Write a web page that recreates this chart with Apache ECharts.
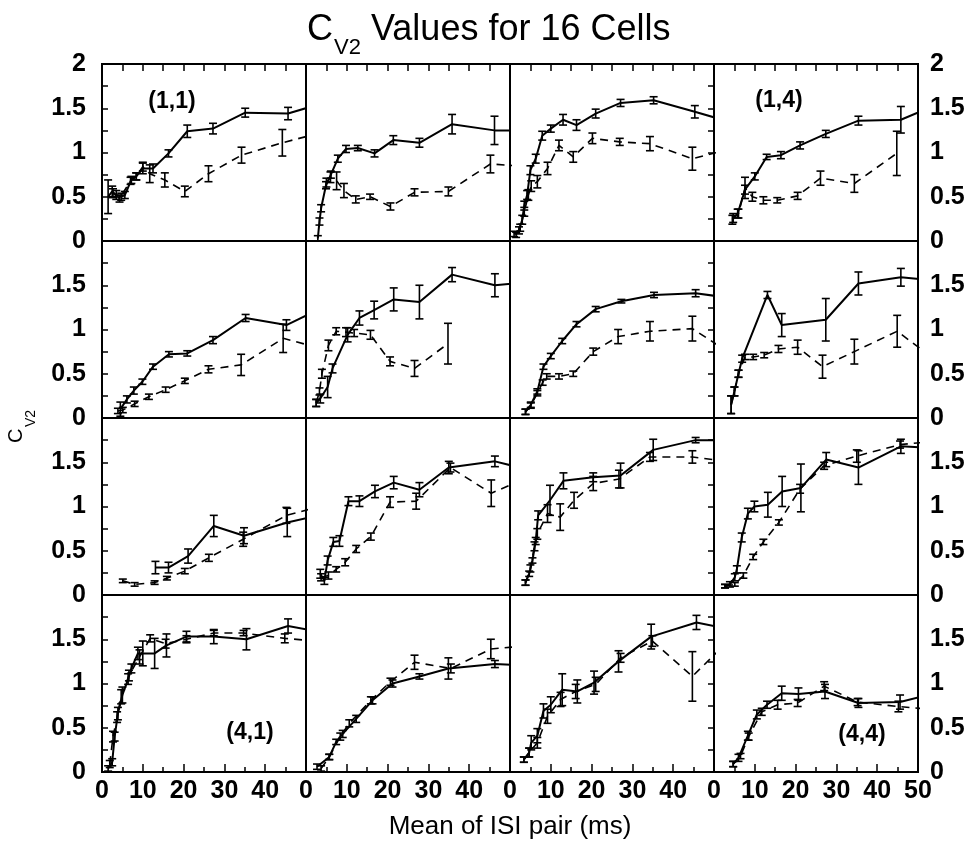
<!DOCTYPE html>
<html>
<head>
<meta charset="utf-8">
<title>CV2 Values for 16 Cells</title>
<script src="https://cdn.jsdelivr.net/npm/echarts@6/dist/echarts.min.js"></script>
<style>
  html, body { margin: 0; padding: 0; background: #fff; }
  #chart { width: 971px; height: 850px; }
</style>
</head>
<body>
<div id="chart"></div>
<script>
// every point is [mean ISI (ms), CV2, error]; points past 50 ms only carry the line to the panel edge
const c11Solid = [[1.5,0.50,0.19],[2.5,0.56,0.06],[3.5,0.52,0.05],[4.7,0.50,0.04],[5.6,0.52,0.04],[7.2,0.69,0.04],[8.4,0.73,0.04],[10.0,0.82,0.06],[12.5,0.82,0.05],[16.3,0.99,0.04],[20.9,1.24,0.07],[27.2,1.27,0.06],[35.1,1.45,0.05],[45.6,1.44,0.07],[55,1.57,0.05]];
const c11Dashed = [[2.7,0.54,0.05],[4.3,0.48,0.04],[7.0,0.68,0.04],[8.4,0.73,0.04],[10.0,0.84,0.05],[11.7,0.76,0.10],[15.4,0.69,0.08],[20.3,0.56,0.06],[26.1,0.76,0.09],[34.2,0.97,0.09],[44.2,1.11,0.15],[55,1.24,0.05]];
const c12Solid = [[2.9,0.03,0.03],[3.3,0.22,0.04],[3.7,0.37,0.04],[4.9,0.63,0.04],[6.1,0.75,0.04],[7.8,0.93,0.04],[9.8,1.04,0.04],[12.7,1.05,0.03],[16.8,0.99,0.04],[21.4,1.14,0.05],[27.8,1.11,0.05],[35.8,1.32,0.11],[46.2,1.25,0.16],[55,1.25,0.05]];
const c12Dashed = [[5.0,0.66,0.05],[6.0,0.72,0.06],[7.5,0.68,0.10],[9.3,0.57,0.08],[12.2,0.47,0.04],[15.7,0.50,0.03],[20.7,0.39,0.04],[26.6,0.55,0.04],[34.9,0.56,0.05],[45.2,0.87,0.10],[55,0.84,0.05]];
const c13Solid = [[1.0,0.08,0.03],[2.2,0.12,0.04],[3.0,0.24,0.05],[3.5,0.40,0.05],[4.2,0.52,0.05],[5.0,0.80,0.05],[6.3,0.93,0.05],[7.9,1.19,0.05],[10.0,1.27,0.04],[13.0,1.37,0.06],[16.3,1.31,0.06],[21.0,1.44,0.05],[27.1,1.56,0.04],[35.2,1.59,0.04],[45.3,1.46,0.07],[55,1.33,0.05]];
const c13Dashed = [[1.5,0.07,0.03],[2.5,0.15,0.04],[3.5,0.33,0.05],[4.5,0.52,0.06],[5.2,0.62,0.06],[6.7,0.67,0.07],[9.2,0.82,0.07],[12.0,1.08,0.06],[15.5,0.95,0.06],[20.2,1.16,0.06],[26.9,1.12,0.04],[34.3,1.10,0.08],[44.7,0.93,0.13],[55,1.05,0.05]];
const c14Solid = [[4.5,0.24,0.05],[5.8,0.31,0.05],[7.6,0.58,0.05],[10.0,0.73,0.04],[12.9,0.95,0.03],[16.4,0.97,0.04],[21.1,1.08,0.04],[27.4,1.21,0.04],[35.4,1.36,0.05],[45.8,1.37,0.15],[55,1.55,0.05]];
const c14Dashed = [[4.7,0.26,0.05],[6.0,0.31,0.05],[7.6,0.60,0.12],[9.4,0.50,0.05],[12.1,0.46,0.04],[15.5,0.46,0.03],[20.5,0.51,0.04],[26.1,0.71,0.08],[34.4,0.65,0.10],[44.8,0.99,0.25]];

const c21Solid = [[4.5,0.10,0.08],[6.1,0.21,0.04],[7.8,0.31,0.04],[9.9,0.41,0.03],[12.5,0.58,0.03],[16.4,0.72,0.03],[20.9,0.73,0.03],[27.2,0.88,0.04],[35.2,1.13,0.04],[45.2,1.05,0.06],[55,1.27,0.05]];
const c21Dashed = [[3.9,0.08,0.03],[5.1,0.09,0.03],[8.0,0.16,0.03],[11.5,0.24,0.03],[15.6,0.32,0.03],[20.3,0.42,0.03],[26.1,0.55,0.04],[34.1,0.60,0.12],[44.4,0.90,0.16],[55,0.77,0.05]];
const c22Solid = [[2.5,0.17,0.04],[3.5,0.22,0.05],[5.3,0.35,0.12],[6.5,0.56,0.05],[10.2,0.94,0.08],[13.1,1.13,0.08],[16.7,1.22,0.10],[21.5,1.34,0.13],[27.8,1.31,0.19],[35.8,1.62,0.08],[46.3,1.50,0.13],[55,1.54,0.05]];
const c22Dashed = [[2.5,0.17,0.04],[3.3,0.30,0.04],[3.9,0.50,0.05],[5.5,0.82,0.06],[7.4,0.98,0.04],[9.8,0.97,0.05],[11.8,0.96,0.04],[15.8,0.94,0.05],[20.6,0.64,0.05],[26.6,0.56,0.09],[34.8,0.84,0.23]];
const c23Solid = [[3.8,0.07,0.03],[5.1,0.15,0.03],[6.7,0.30,0.03],[8.2,0.58,0.03],[10.0,0.70,0.03],[12.8,0.87,0.03],[16.3,1.06,0.03],[21.0,1.23,0.03],[27.3,1.32,0.02],[35.3,1.39,0.03],[45.5,1.41,0.04],[55,1.35,0.04]];
const c23Dashed = [[3.8,0.07,0.03],[5.1,0.14,0.03],[6.7,0.28,0.03],[8.0,0.40,0.03],[9.0,0.47,0.03],[12.0,0.47,0.03],[15.5,0.50,0.03],[20.4,0.75,0.04],[26.5,0.92,0.08],[34.3,0.98,0.11],[44.7,1.01,0.14],[55,0.70,0.05]];
const c24Solid = [[4.2,0.15,0.10],[5.0,0.30,0.05],[6.0,0.50,0.04],[6.9,0.67,0.04],[13.1,1.39,0.04],[16.6,1.05,0.13],[27.4,1.11,0.24],[35.4,1.52,0.13],[45.8,1.59,0.10],[55,1.55,0.05]];
const c24Dashed = [[4.2,0.15,0.10],[5.0,0.30,0.05],[6.0,0.50,0.04],[7.6,0.69,0.03],[9.6,0.69,0.03],[12.3,0.71,0.03],[15.8,0.78,0.04],[20.5,0.80,0.08],[26.6,0.58,0.13],[34.4,0.75,0.14],[44.9,0.98,0.18],[55,0.63,0.05]];

const c31Solid = [[13.1,0.31,0.07],[16.3,0.31,0.06],[21.1,0.44,0.08],[27.4,0.78,0.12],[34.8,0.67,0.09],[45.4,0.82,0.16],[55,0.92,0.05]];
const c31Dashed = [[5.1,0.16,0.02],[8.0,0.12,0.02],[12.9,0.14,0.02],[15.9,0.19,0.02],[20.3,0.27,0.03],[26.2,0.42,0.04],[34.6,0.63,0.08],[45.2,0.90,0.09],[55,1.02,0.05]];
const c32Solid = [[3.5,0.24,0.05],[4.5,0.16,0.04],[5.3,0.39,0.05],[6.7,0.60,0.05],[8.2,0.61,0.06],[10.4,1.06,0.05],[13.1,1.06,0.06],[16.9,1.17,0.07],[21.5,1.27,0.07],[27.8,1.19,0.08],[35.0,1.44,0.07],[46.3,1.51,0.06],[55,1.41,0.05]];
const c32Dashed = [[3.7,0.20,0.04],[5.5,0.22,0.04],[7.4,0.29,0.03],[9.6,0.37,0.04],[12.3,0.52,0.04],[15.9,0.66,0.04],[20.6,1.05,0.06],[27.0,1.06,0.09],[35.4,1.44,0.05],[45.4,1.15,0.15],[55,1.34,0.05]];
const c33Solid = [[3.8,0.14,0.03],[4.7,0.24,0.03],[5.5,0.39,0.03],[6.3,0.61,0.04],[6.9,0.90,0.05],[9.8,1.07,0.17],[13.1,1.29,0.09],[20.4,1.33,0.05],[27.1,1.35,0.14],[35.1,1.64,0.12],[45.5,1.75,0.03],[55,1.75,0.03]];
const c33Dashed = [[3.8,0.14,0.03],[5.0,0.30,0.04],[6.0,0.55,0.05],[6.7,0.69,0.06],[9.2,0.92,0.10],[12.3,0.88,0.15],[15.7,1.07,0.09],[20.4,1.26,0.08],[26.7,1.31,0.10],[34.3,1.56,0.05],[44.7,1.56,0.07],[55,1.50,0.05]];
const c34Solid = [[2.7,0.10,0.02],[3.9,0.12,0.03],[5.1,0.20,0.04],[5.6,0.29,0.04],[6.8,0.65,0.05],[8.3,0.92,0.06],[9.9,1.00,0.06],[13.2,1.02,0.14],[16.7,1.17,0.17],[21.3,1.21,0.27],[27.5,1.53,0.08],[35.4,1.44,0.19],[45.8,1.68,0.08],[55,1.66,0.05]];
const c34Dashed = [[2.7,0.10,0.02],[5.1,0.12,0.02],[7.2,0.22,0.03],[9.6,0.43,0.03],[12.1,0.60,0.03],[15.9,0.82,0.03],[21.1,1.20,0.05],[27.0,1.46,0.04],[35.0,1.57,0.07],[45.6,1.70,0.04],[55,1.74,0.04]];

const c41Solid = [[1.5,0.04,0.03],[2.5,0.11,0.04],[3.1,0.40,0.05],[3.9,0.66,0.07],[5.0,0.87,0.09],[6.4,1.05,0.06],[7.2,1.17,0.05],[8.8,1.34,0.07],[10.0,1.34,0.14],[12.9,1.34,0.17],[15.8,1.43,0.13],[20.7,1.53,0.06],[27.4,1.53,0.08],[35.4,1.50,0.12],[45.6,1.65,0.08],[55,1.57,0.05]];
const c41Dashed = [[1.9,0.09,0.04],[2.7,0.40,0.06],[3.7,0.62,0.06],[4.7,0.85,0.08],[6.6,1.09,0.06],[9.2,1.30,0.08],[11.8,1.51,0.04],[15.6,1.45,0.05],[20.7,1.50,0.04],[27.4,1.57,0.03],[34.7,1.57,0.03],[44.8,1.51,0.05],[55,1.47,0.04]];
const c42Solid = [[2.7,0.06,0.03],[5.7,0.17,0.03],[7.4,0.34,0.03],[9.0,0.43,0.04],[12.3,0.60,0.04],[16.3,0.81,0.04],[21.2,1.00,0.04],[27.8,1.08,0.03],[34.9,1.17,0.12],[46.3,1.22,0.04],[55,1.20,0.04]];
const c42Dashed = [[3.7,0.04,0.03],[5.7,0.17,0.03],[8.4,0.40,0.04],[10.6,0.55,0.04],[15.9,0.81,0.04],[20.7,1.02,0.04],[26.6,1.24,0.08],[35.5,1.17,0.05],[45.3,1.39,0.11],[55,1.43,0.04]];
const c43Solid = [[3.4,0.14,0.03],[4.7,0.22,0.05],[5.2,0.33,0.08],[6.7,0.41,0.08],[8.2,0.69,0.08],[10.0,0.76,0.09],[12.8,0.93,0.18],[16.5,0.91,0.13],[20.6,1.01,0.13],[26.6,1.25,0.12],[34.6,1.53,0.14],[45.7,1.69,0.08],[55,1.60,0.05]];
const c43Dashed = [[3.4,0.14,0.03],[4.7,0.22,0.05],[6.7,0.33,0.06],[9.2,0.63,0.08],[12.4,0.82,0.08],[16.1,0.91,0.08],[21.0,0.99,0.08],[27.1,1.29,0.05],[34.9,1.48,0.06],[44.7,1.08,0.28],[55,1.55,0.05]];
const c44Solid = [[4.7,0.09,0.03],[6.0,0.16,0.04],[8.3,0.41,0.05],[10.5,0.65,0.05],[13.0,0.76,0.04],[16.6,0.89,0.08],[20.7,0.88,0.07],[27.2,0.91,0.08],[35.4,0.78,0.05],[45.6,0.79,0.08],[55,0.90,0.05]];
const c44Dashed = [[4.7,0.09,0.03],[6.5,0.18,0.03],[8.5,0.40,0.04],[11.7,0.68,0.04],[15.6,0.76,0.05],[20.5,0.78,0.04],[27.0,0.97,0.05],[35.2,0.79,0.04],[45.2,0.74,0.06],[55,0.70,0.04]];

const panels = [
  [c11Solid, c11Dashed], [c12Solid, c12Dashed], [c13Solid, c13Dashed], [c14Solid, c14Dashed],
  [c21Solid, c21Dashed], [c22Solid, c22Dashed], [c23Solid, c23Dashed], [c24Solid, c24Dashed],
  [c31Solid, c31Dashed], [c32Solid, c32Dashed], [c33Solid, c33Dashed], [c34Solid, c34Dashed],
  [c41Solid, c41Dashed], [c42Solid, c42Dashed], [c43Solid, c43Dashed], [c44Solid, c44Dashed]
];
const cellLabels = ['(1,1)', '(1,4)', '(4,1)', '(4,4)'];

const FONT = '"Liberation Sans", Arial, Helvetica, sans-serif';
const L = 102, T = 64, W = 204, H = 177;

// vertical error bar with caps
function errBar(params, api) {
  const x = api.value(0), y = api.value(1), e = api.value(2);
  const hi = api.coord([x, y + e]);
  const lo = api.coord([x, y - e]);
  const cap = 4;
  const st = { stroke: '#000', lineWidth: 1.6 };
  return {
    type: 'group',
    children: [
      { type: 'line', shape: { x1: hi[0], y1: hi[1], x2: lo[0], y2: lo[1] }, style: st },
      { type: 'line', shape: { x1: hi[0] - cap, y1: hi[1], x2: hi[0] + cap, y2: hi[1] }, style: st },
      { type: 'line', shape: { x1: lo[0] - cap, y1: lo[1], x2: lo[0] + cap, y2: lo[1] }, style: st }
    ]
  };
}

const grid = [], xAxis = [], yAxis = [], series = [];
const tickLabel = { fontFamily: FONT, fontSize: 25, fontWeight: 'bold', color: '#000' };

panels.forEach((p, i) => {
  const r = Math.floor(i / 4), c = i % 4;
  grid.push({
    left: L + c * W, top: T + r * H, width: W, height: H,
    show: true, borderColor: '#000', borderWidth: 2, backgroundColor: 'transparent'
  });
  xAxis.push({
    type: 'value', gridIndex: i, min: 0, max: 50, interval: 10, position: 'bottom',
    axisLine: { show: false },
    splitLine: { show: false },
    axisTick: { show: r === 3, inside: true, length: 8, lineStyle: { color: '#000', width: 1.5 } },
    minorTick: { show: r === 3, splitNumber: 2, length: 5, lineStyle: { color: '#000', width: 1.5 } },
    axisLabel: {
      show: r === 3, margin: 7, ...tickLabel,
      formatter: v => (c < 3 && v === 50) ? '' : String(v)
    }
  });
  yAxis.push({
    type: 'value', gridIndex: i, min: 0, max: 2, interval: 0.25,
    position: c === 3 ? 'right' : 'left',
    show: c === 0 || c === 3,
    axisLine: { show: false },
    splitLine: { show: false },
    axisTick: { show: true, inside: true, length: 6, lineStyle: { color: '#000', width: 1.5 } },
    axisLabel: {
      show: true, margin: c === 3 ? 12 : 16, ...tickLabel,
      formatter: v => {
        const half = Math.abs(v * 2 - Math.round(v * 2)) < 1e-6;
        if (!half || (r > 0 && v === 2)) return '';
        return String(v);
      }
    }
  });
  series.push(
    {
      type: 'line', xAxisIndex: i, yAxisIndex: i, data: p[0].map(d => [d[0], d[1]]),
      symbol: 'none', silent: true, clip: true,
      lineStyle: { color: '#000', width: 2 }
    },
    {
      type: 'line', xAxisIndex: i, yAxisIndex: i, data: p[1].map(d => [d[0], d[1]]),
      symbol: 'none', silent: true, clip: true,
      lineStyle: { color: '#000', width: 1.6, type: [8, 6] }
    },
    {
      type: 'custom', xAxisIndex: i, yAxisIndex: i, data: p[0], renderItem: errBar,
      encode: { x: 0, y: 1 }, clip: true, silent: true, z: 3
    },
    {
      type: 'custom', xAxisIndex: i, yAxisIndex: i, data: p[1], renderItem: errBar,
      encode: { x: 0, y: 1 }, clip: true, silent: true, z: 3
    }
  );
});

// tick marks along the top edge of the first row
for (let c = 0; c < 4; c++) {
  xAxis.push({
    type: 'value', gridIndex: c, min: 0, max: 50, interval: 5, position: 'top',
    axisLine: { show: false }, splitLine: { show: false }, axisLabel: { show: false },
    axisTick: { show: true, inside: true, length: 7, lineStyle: { color: '#000', width: 1.5 } }
  });
}

function txt(x, y, s, size, align) {
  return {
    type: 'text', x: x, y: y,
    style: {
      text: s, fontFamily: FONT, fontSize: size, fill: '#000',
      textAlign: align, textVerticalAlign: 'middle', align: align, verticalAlign: 'middle'
    }
  };
}

const graphic = [
  txt(307, 30, 'C', 36, 'left'),
  txt(334, 48, 'V2', 22, 'left'),
  txt(371, 30, 'Values for 16 Cells', 36, 'left'),
  // y name, the group is turned so the text reads upward
  {
    type: 'group', x: 16, y: 443, rotation: Math.PI / 2,
    children: [
      txt(0, 0, 'C', 20, 'left'),
      txt(16, 15, 'V2', 14, 'left')
    ]
  },
  txt(510, 827, 'Mean of ISI pair (ms)', 26, 'center')
];

const labelPos = [[172, 102], [779, 101], [250, 733], [862, 735]];
cellLabels.forEach((s, k) => {
  const g = txt(labelPos[k][0], labelPos[k][1], s, 23, 'center');
  g.style.fontWeight = 'bold';
  graphic.push(g);
});

const chart = echarts.init(document.getElementById('chart'));
chart.setOption({
  backgroundColor: '#fff',
  animation: false,
  grid: grid,
  xAxis: xAxis,
  yAxis: yAxis,
  series: series,
  graphic: graphic
});
</script>
</body>
</html>
